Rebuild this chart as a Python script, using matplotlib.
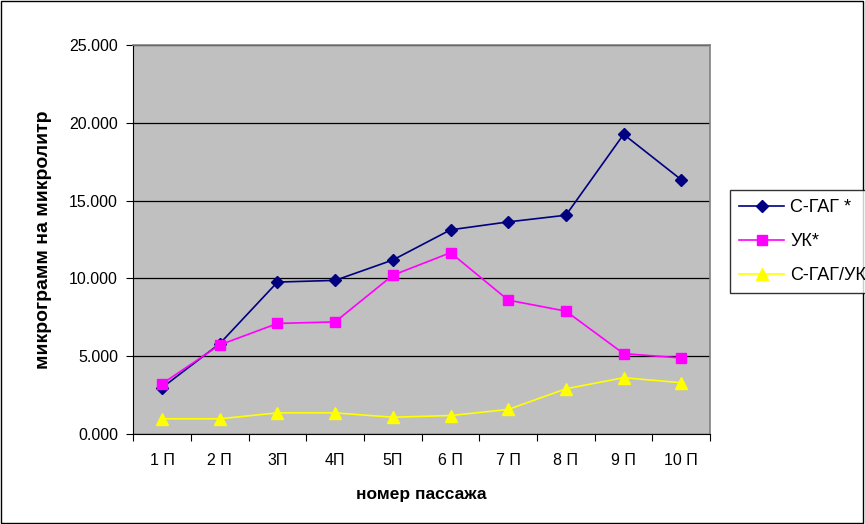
import matplotlib
matplotlib.use('Agg')
import matplotlib.pyplot as plt
from matplotlib.patches import Rectangle
from matplotlib.ticker import FuncFormatter
import numpy as np

plt.rcParams['font.family'] = ['Liberation Sans', 'DejaVu Sans']

passages = ['1 П', '2 П', '3П', '4П', '5П', '6 П', '7 П', '8 П', '9 П', '10 П']
s_gag = [2.97, 5.80, 9.76, 9.87, 11.18, 13.12, 13.63, 14.06, 19.26, 16.34]
uk = [3.22, 5.72, 7.10, 7.20, 10.20, 11.65, 8.60, 7.89, 5.16, 4.88]
ratio = [0.97, 0.97, 1.35, 1.35, 1.07, 1.18, 1.57, 2.90, 3.61, 3.29]

fig = plt.figure(figsize=(8.65, 5.24), dpi=100)
ax = fig.add_axes([0.154, 0.172, 0.667, 0.742])
ax.set_facecolor('#c0c0c0')

x = np.arange(len(passages))
ax.plot(x, s_gag, color='#000080', marker='D', markersize=6, lw=1.2, label='С-ГАГ *')
ax.plot(x, uk, color='#ff00ff', marker='s', markersize=7, lw=1.2, label='УК*')
ax.plot(x, ratio, color='#ffff00', marker='^', markersize=8, lw=1.2, label='С-ГАГ/УК')

ax.set_xlim(-0.5, len(passages) - 0.5)
ax.set_ylim(0, 25)
ax.set_yticks(np.arange(0, 26, 5))
ax.yaxis.set_major_formatter(FuncFormatter(lambda v, p: '%d.000' % v))
ax.grid(axis='y', color='black', lw=0.9)
ax.set_axisbelow(True)

# category boundaries get the tick marks, labels sit in between
ax.set_xticks(np.arange(-0.5, len(passages), 1))
ax.set_xticklabels([])
ax.set_xticks(x, minor=True)
ax.set_xticklabels(passages, minor=True)
ax.tick_params(axis='x', which='minor', length=0, pad=14, labelsize=11.5)
ax.tick_params(axis='x', which='major', length=5, direction='out')
ax.tick_params(axis='y', length=5, direction='out', labelsize=11.5, pad=6)

for side in ['top', 'right']:
    ax.spines[side].set_color('#808080')
    ax.spines[side].set_linewidth(1.2)
for side in ['left', 'bottom']:
    ax.spines[side].set_color('black')

ax.set_xlabel('номер пассажа', fontsize=12.5, fontweight='bold')
ax.xaxis.set_label_coords(0.5, -0.136)
ax.set_ylabel('микрограмм на микролитр', fontsize=14, fontweight='bold')
ax.yaxis.set_label_coords(-0.14, 0.5)

leg = fig.legend(loc='upper left', bbox_to_anchor=(730 / 865, 1 - 190 / 524),
                 frameon=True, fancybox=False, edgecolor='black', fontsize=13,
                 handlelength=2.5, handletextpad=0.35, borderpad=0.5,
                 labelspacing=0.95, borderaxespad=0)
leg.get_frame().set_linewidth(1.0)

fig.patches.append(Rectangle((0.001, 0.002), 0.997, 0.996, transform=fig.transFigure,
                             fill=False, edgecolor='black', lw=1.0))

fig.savefig('out.png', dpi=100)
